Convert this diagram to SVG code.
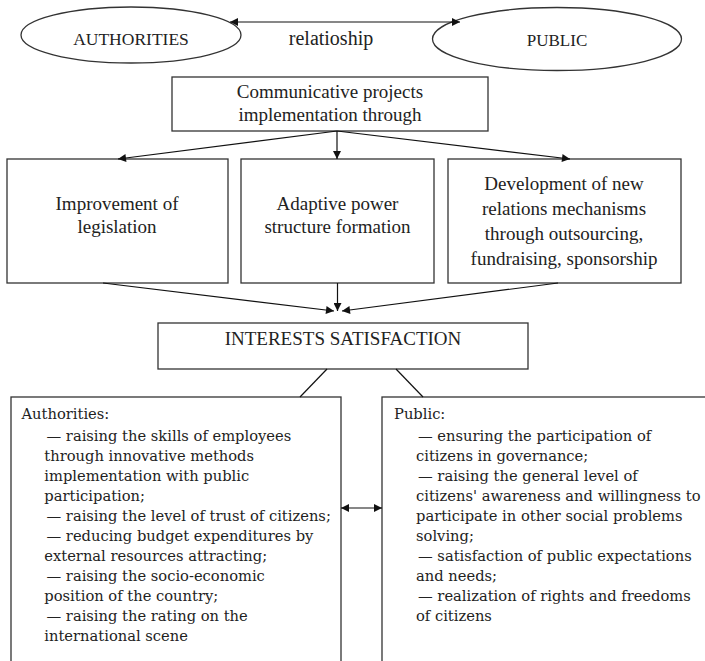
<svg xmlns="http://www.w3.org/2000/svg" width="705" height="661" viewBox="0 0 705 661">
<defs>
<style>
.shape{fill:#fff;stroke:#333;stroke-width:1.3}
.conn{fill:none;stroke:#111;stroke-width:1.2}
.t{font-family:"Liberation Serif",serif;fill:#222;text-anchor:middle}
.b{font-family:"DejaVu Serif",serif;font-size:14.7px;fill:#222}
</style>
<marker id="ah" viewBox="0 0 10 10" refX="10" refY="5" markerWidth="11" markerHeight="8" markerUnits="userSpaceOnUse" orient="auto-start-reverse">
<path d="M0,0 L10,5 L0,10 z" fill="#111"/>
</marker>
</defs>
<rect width="705" height="661" fill="#fff"/>

<g id="authorities">
<ellipse class="shape" cx="131" cy="35" rx="110" ry="28"/>
<text class="t" x="131" y="45" font-size="17.5">AUTHORITIES</text>
</g>
<g id="public">
<ellipse class="shape" cx="557" cy="39" rx="124.5" ry="31.5"/>
<text class="t" x="557" y="46" font-size="17">PUBLIC</text>
</g>
<g id="relationship-label">
<text class="t" x="331" y="45" font-size="20">relatioship</text>
</g>
<g id="communicative">
<rect class="shape" x="172" y="77" width="316" height="54"/>
<text class="t" x="330" y="98" font-size="19">Communicative projects</text>
<text class="t" x="330" y="121" font-size="19">implementation through</text>
</g>
<g id="legislation">
<rect class="shape" x="7" y="159" width="221" height="124"/>
<text class="t" x="117" y="210" font-size="19">Improvement of</text>
<text class="t" x="117" y="233" font-size="19">legislation</text>
</g>
<g id="adaptive">
<rect class="shape" x="241" y="159" width="193" height="124"/>
<text class="t" x="337.5" y="210" font-size="19">Adaptive power</text>
<text class="t" x="337.5" y="233" font-size="19">structure formation</text>
</g>
<g id="development">
<rect class="shape" x="448" y="159" width="233" height="124"/>
<text class="t" x="564" y="190" font-size="19">Development of new</text>
<text class="t" x="564" y="215" font-size="19">relations mechanisms</text>
<text class="t" x="564" y="240" font-size="19">through outsourcing,</text>
<text class="t" x="564" y="265" font-size="19">fundraising, sponsorship</text>
</g>
<g id="interests">
<rect class="shape" x="158" y="323" width="370" height="46"/>
<text class="t" x="343" y="345" font-size="19">INTERESTS SATISFACTION</text>
</g>
<g id="authorities-box">
<rect class="shape" x="11" y="397" width="330" height="280"/>
<text class="b" x="21.5" y="419">Authorities:</text>
<text class="b" x="46.5" y="441">— raising the skills of employees</text>
<text class="b" x="44.3" y="461">through innovative methods</text>
<text class="b" x="44.3" y="481">implementation with public</text>
<text class="b" x="44.3" y="501">participation;</text>
<text class="b" x="46.5" y="521">— raising the level of trust of citizens;</text>
<text class="b" x="46.5" y="541">— reducing budget expenditures by</text>
<text class="b" x="44.3" y="561">external resources attracting;</text>
<text class="b" x="46.5" y="581">— raising the socio-economic</text>
<text class="b" x="44.3" y="601">position of the country;</text>
<text class="b" x="46.5" y="621">— raising the rating on the</text>
<text class="b" x="44.3" y="641">international scene</text>
</g>
<g id="public-box">
<rect class="shape" x="382" y="397" width="340" height="280"/>
<text class="b" x="394" y="419">Public:</text>
<text class="b" x="418" y="441">— ensuring the participation of</text>
<text class="b" x="416" y="461">citizens in governance;</text>
<text class="b" x="418" y="481">— raising the general level of</text>
<text class="b" x="416" y="501">citizens' awareness and willingness to</text>
<text class="b" x="416" y="521">participate in other social problems</text>
<text class="b" x="416" y="541">solving;</text>
<text class="b" x="418" y="561">— satisfaction of public expectations</text>
<text class="b" x="416" y="581">and needs;</text>
<text class="b" x="418" y="601">— realization of rights and freedoms</text>
<text class="b" x="416" y="621">of citizens</text>
</g>

<g id="connectors">
<line class="conn" x1="230" y1="22" x2="460" y2="22" marker-start="url(#ah)" marker-end="url(#ah)"/>
<line class="conn" x1="337" y1="131" x2="118" y2="159" marker-end="url(#ah)"/>
<line class="conn" x1="337" y1="131" x2="337" y2="159" marker-end="url(#ah)"/>
<line class="conn" x1="337" y1="131" x2="570" y2="159" marker-end="url(#ah)"/>
<line class="conn" x1="103" y1="283" x2="334" y2="311" marker-end="url(#ah)"/>
<line class="conn" x1="337.5" y1="283" x2="337.5" y2="311" marker-end="url(#ah)"/>
<line class="conn" x1="558" y1="283" x2="342" y2="311" marker-end="url(#ah)"/>
<line class="conn" x1="327" y1="369" x2="300" y2="397"/>
<line class="conn" x1="396" y1="369" x2="423" y2="397"/>
<line class="conn" x1="341" y1="508" x2="382" y2="508" marker-start="url(#ah)" marker-end="url(#ah)"/>
</g>
</svg>
